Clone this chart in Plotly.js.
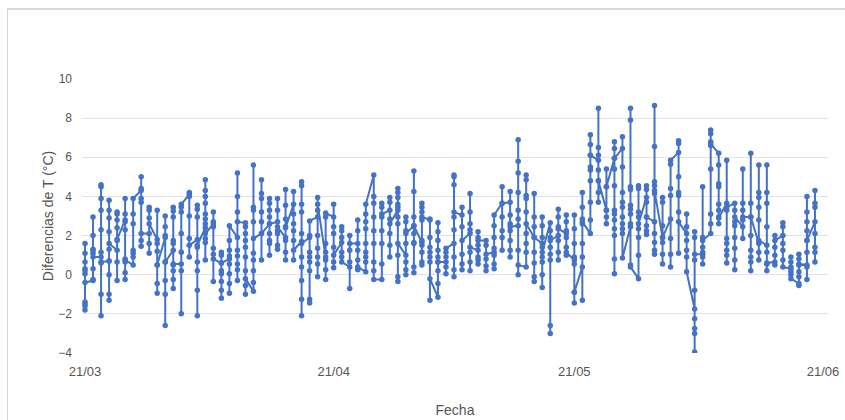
<!DOCTYPE html>
<html>
<head>
<meta charset="utf-8">
<script src="https://cdn.plot.ly/plotly-3.0.1.min.js"></script>
<style>
  html, body { margin: 0; padding: 0; background: #fff; }
  #wrap { position: relative; width: 845px; height: 420px; overflow: hidden; }
  #chart { position: absolute; left: 0; top: 0; width: 845px; height: 420px; }
  #frame { position: absolute; left: 7px; top: 8px; width: 900px; height: 500px;
           border-left: 1px solid #d6d6d6; border-top: 2px solid #d9d9d9; pointer-events: none; }
</style>
</head>
<body>
<div id="wrap">
  <div id="chart"></div>
  <div id="frame"></div>
</div>
<script>
// Lecturas diarias (°C), una lista por día, en orden de registro
// Marzo: 21/03 .. 31/03
const marzo = [
  [-1.5, -1.8, -1.6, -1.4, 0.05, 0.3, 0.65, 1.1, 1.6, 0.2, -0.4],
  [-0.3, -0.25, 0.3, 1.1, 1.25, 2.0, 2.95, 1.3, 0.9],
  [0.9, 1.15, 2.3, 3.3, 3.9, 4.5, 4.6, 0.6, -1.0, -2.1, 0.65],
  [0.7, 0.0, -1.0, -1.3, 0.7, 1.3, 2.2, 2.9, 3.3, 3.8, 1.6],
  [1.25, 0.65, -0.3, 1.75, 2.4, 2.8, 3.1, 3.2, 1.8],
  [2.8, 3.1, 3.9, 2.7, 2.3, 0.8, 0.1, -0.25, 0.65, 0.75],
  [0.5, 0.9, 1.1, 1.25, 2.6, 3.1, 3.9],
  [4.3, 4.4, 5.0, 3.9, 3.7, 1.75, 1.45, 2.1],
  [2.1, 1.6, 1.1, 2.9, 3.3, 3.45, 2.6],
  [1.8, 3.3, 1.6, 1.2, 0.5, -0.45, -0.95, 0.5],
  [1.9, 2.0, 2.45, 3.0, 0.65, -0.3, -1.0, -2.6, 0.65]
];
// Abril: 01/04 .. 30/04
const abril = [
  [1.25, 1.6, 1.75, 2.95, 3.25, 3.45, 0.5, 0.2, -0.25, -0.7, 0.55],
  [0.55, 0.2, -2.0, 1.15, 2.1, 3.2, 3.45, 3.6],
  [4.1, 4.2, 4.0, 3.0, 1.85, 0.9, 1.5],
  [1.8, 0.65, 0.2, -0.8, -2.1, 1.4, 2.95, 3.35, 3.55, 1.5],
  [2.4, 2.6, 3.1, 3.65, 4.0, 4.3, 4.85, 2.85, 1.85, 1.65, 0.75, 2.1],
  [2.6, 3.2, 2.7, 2.45, 1.35, 1.05, -0.35, 0.8],
  [0.6, 1.15, 1.0, 0.2, 0.05, -0.35, -0.8, -1.2, 0.6],
  [0.8, 0.05, -0.45, -0.95, 0.55, 0.95, 1.25, 1.75, 2.5],
  [1.9, 1.25, 0.95, 0.55, 0.25, -0.3, 3.2, 4.0, 5.2, 2.7],
  [2.65, 2.45, 2.1, 1.75, 1.4, 0.9, 0.2, -0.55, -1.0, -0.2],
  [-0.85, -0.4, 0.2, 0.75, 1.1, 2.7, 3.3, 3.45, 5.6, 1.85],
  [2.1, 2.7, 3.2, 3.9, 4.15, 4.85, 0.75, 2.1],
  [2.6, 2.1, 1.75, 1.6, 1.0, 2.95, 3.3, 3.65, 3.9, 2.6],
  [2.7, 3.3, 3.9, 2.25, 2.1, 1.5, 1.3, 2.45],
  [1.9, 1.75, 1.15, 0.75, 2.45, 2.85, 3.55, 4.35, 2.4],
  [3.6, 4.25, 3.1, 2.6, 2.25, 1.75, 0.75, 1.25],
  [1.7, 2.1, 3.6, 3.2, 4.55, 4.75, 0.9, 0.4, -0.3, -1.25, -2.1, 1.6],
  [1.9, 1.15, 0.9, 0.65, 0.2, -1.25, -1.45, 2.0, 2.75],
  [2.95, 3.3, 3.95, 2.0, 1.35, 0.9, 0.55, -0.1, 3.6],
  [0.9, 0.25, -0.25, 0.75, 1.15, 1.6, 2.95, 3.15],
  [2.95, 3.6, 2.45, 2.1, 1.4, 0.65, 0.35, 1.0],
  [1.65, 2.45, 2.25, 1.9, 1.15, 0.9, 0.65],
  [0.4, 0.65, -0.7, 1.25, 2.0, 1.6],
  [1.6, 2.25, 2.8, 1.25, 0.75, 0.25, 0.4],
  [0.15, 0.65, 0.9, 1.15, 1.6, 2.35, 2.7, 3.1, 3.6],
  [5.1, 4.0, 3.65, 2.95, 2.25, 1.6, 0.65, 0.2, -0.25],
  [-0.25, 0.55, 1.6, 2.25, 2.95, 3.45, 3.65, 3.1],
  [3.3, 3.95, 3.7, 2.85, 2.1, 1.5, 0.9, 2.6],
  [3.3, 4.4, 4.2, 3.95, 3.6, 3.45, 2.95, 2.6, 1.0, -0.1, -0.35, 1.6],
  [1.0, 0.65, 0.25, 0.0, 1.6, 2.25, 2.7, 2.95, 2.1]
];
// Mayo: 01/05 .. 31/05
const mayo = [
  [2.5, 2.1, 1.65, 0.4, 0.1, 1.6, 2.95, 4.25, 5.3, 2.5],
  [1.65, 1.5, 1.15, 0.65, 0.5, 1.75, 2.8, 3.2, 3.45, 3.65, 2.95],
  [2.8, 2.85, 1.9, 1.4, 1.15, 0.9, 0.65, -1.3, -0.2],
  [-1.15, -0.45, 0.2, 0.65, 0.9, 1.25, 1.75, 2.2, 2.65, 0.65],
  [0.65, 0.4, 0.05, 0.9, 1.15, 1.35],
  [1.6, 0.9, 0.25, -0.1, 2.3, 2.95, 4.6, 5.0, 5.1, 3.2],
  [3.05, 3.45, 2.45, 1.05, 0.55, 0.25, 1.75],
  [2.1, 2.6, 3.2, 4.15, 2.3, 1.15, 0.65, 0.2, 1.4],
  [1.25, 0.9, 0.75, 0.55, 1.5, 1.9, 2.2, 1.75],
  [1.75, 1.5, 0.8, 0.45, 0.2, 1.05],
  [1.15, 0.55, 0.3, 1.0, 1.35, 1.9, 2.5, 3.05],
  [3.65, 4.5, 2.95, 2.25, 1.9, 1.25, 3.65],
  [3.7, 4.25, 3.05, 2.6, 2.25, 1.75, 1.25, 0.9, 2.45],
  [2.5, 2.85, 3.3, 4.2, 5.2, 5.8, 6.9, 1.25, 0.0, 0.5],
  [0.4, 1.15, 1.6, 2.1, 3.2, 3.9, 4.05, 4.85, 5.1, 2.6],
  [1.9, 2.45, 2.95, 4.15, 1.15, 0.6, -0.1, -0.35, 1.9],
  [1.6, 1.9, 2.5, 2.95, 1.4, 0.9, 0.65, 0.0, -0.65, 1.15],
  [2.65, 2.25, 1.9, 1.4, 1.05, 0.75, -2.6, -3.0, 1.75],
  [2.0, 1.75, 1.15, 0.75, 2.45, 2.95, 3.35, 2.35],
  [2.1, 1.9, 1.4, 1.0, 2.25, 2.7, 3.05, 1.15],
  [0.75, 0.55, 0.9, 1.6, 2.35, 3.05, -0.9, -1.45, -0.9],
  [0.4, -1.3, 0.9, 1.6, 2.6, 2.85, 3.45, 4.2, 2.7],
  [2.1, 2.8, 3.7, 4.8, 5.35, 5.5, 6.1, 6.65, 7.15, 6.1],
  [5.85, 6.1, 6.5, 8.5, 5.35, 4.8, 4.2, 3.7, 4.8],
  [3.3, 2.95, 2.6, 3.3, 4.5, 5.4, 4.5],
  [5.95, 6.8, 6.45, 5.4, 4.55, 3.3, 3.1, 2.8, 2.35, 2.0, 0.8, 0.05, 5.95],
  [6.45, 7.05, 5.5, 4.2, 3.7, 3.45, 2.95, 2.6, 2.35, 2.1, 0.85],
  [2.45, 2.6, 3.1, 3.35, 3.55, 4.35, 4.5, 7.9, 8.5, 0.5, 0.4],
  [-0.2, 1.0, 1.9, 2.35, 2.95, 3.2, 4.4, 4.55, 2.6],
  [3.95, 4.35, 4.55, 3.7, 2.95, 2.5, 2.25, 2.05, 2.95],
  [2.7, 2.1, 1.65, 1.25, 1.05, 4.15, 4.55, 4.75, 6.55, 8.65, 4.3]
];
// Junio: 01/06 .. 20/06
const junio = [
  [1.9, 1.65, 1.05, 0.55, 2.5, 3.7, 3.95, 1.9],
  [2.85, 1.85, 1.05, 0.4, 4.05, 4.4, 5.65, 5.85],
  [6.25, 6.7, 6.85, 5.0, 4.2, 4.05, 3.2, 1.1, 2.7],
  [2.1, 2.45, 3.1, 1.75, 1.25, 0.9, 0.15],
  [-1.75, -2.25, -2.75, -3.0, -3.95, -0.8, 0.75, 1.9, 2.2, 1.05],
  [1.05, 0.55, 0.9, 1.15, 1.4, 1.9, 4.5, 1.75],
  [2.1, 2.6, 3.1, 5.4, 6.6, 6.8, 7.2, 7.4, 6.7],
  [6.2, 5.6, 4.65, 4.5, 3.6, 3.3, 2.95, 2.6, 2.9],
  [3.65, 5.85, 3.3, 1.85, 1.6, 1.25, 1.0, 0.6, 3.45],
  [3.65, 3.3, 2.7, 2.5, 1.9, 1.35, 0.75, 0.25, 2.95],
  [2.45, 1.85, 2.8, 3.3, 3.65, 5.4, 2.95],
  [2.95, 3.65, 6.2, 2.0, 1.25, 0.9, 0.65, 0.2, 2.95],
  [1.6, 1.15, 0.75, 2.8, 3.45, 3.95, 4.2, 5.6, 1.75],
  [1.5, 2.45, 3.65, 4.2, 5.6, 1.15, 0.55, 0.2, 0.6],
  [0.65, 0.5, 1.0, 1.4, 2.0, 1.75],
  [2.0, 2.65, 2.45, 1.6, 1.25, 0.75, 0.4],
  [0.3, 0.9, 0.65, 0.4, 0.15, 0.0, -0.2],
  [-0.45, -0.55, -0.1, 0.15, 0.5, 0.8, 1.05, 0.55],
  [0.5, 0.4, -0.25, 1.15, 1.75, 2.25, 2.7, 3.2, 4.0, 1.75],
  [2.7, 3.45, 3.65, 4.3, 2.1, 1.4, 1.15, 0.65]
];
const anio = 2020;
const mesesInicio = [[marzo, '03', 21], [abril, '04', 1], [mayo, '05', 1], [junio, '06', 1]];
const tickFechas = ['2020-03-21', '2020-04-21', '2020-05-21', '2020-06-21'];
const tickTextos = ['21/03', '21/04', '21/05', '21/06'];

const xs = [], ys = [];
mesesInicio.forEach(([dias, mes, inicio]) => {
  dias.forEach((lecturas, i) => {
    const d = String(inicio + i).padStart(2, '0');
    const fecha = `${anio}-${mes}-${d}`;
    lecturas.forEach(v => { xs.push(fecha); ys.push(v); });
  });
});

const azul = '#4472c4';
const trace = {
  x: xs, y: ys, type: 'scatter', mode: 'lines+markers',
  line: { color: azul, width: 2 },
  marker: { color: azul, size: 5.5 },
  hoverinfo: 'x+y'
};

const fontFam = 'Arial, "Liberation Sans", sans-serif';
const layout = {
  width: 845, height: 420,
  margin: { l: 82, r: 17, t: 79, b: 67 },
  paper_bgcolor: '#ffffff', plot_bgcolor: '#ffffff',
  showlegend: false,
  font: { family: fontFam, size: 12, color: '#555555' },
  xaxis: {
    type: 'date',
    range: ['2020-03-20 15:00', '2020-06-21 15:00'],
    tickvals: tickFechas, ticktext: tickTextos,
    showgrid: false, zeroline: false, showline: false, ticks: '',
    ticklabelstandoff: 9,
    tickfont: { size: 13, color: '#555555' },
    title: { text: 'Fecha', font: { size: 14, color: '#555555' }, standoff: 27 }
  },
  yaxis: {
    range: [-4, 10],
    tickvals: [-4, -2, 0, 2, 4, 6, 8, 10],
    showgrid: true, gridcolor: '#e3e3e3', gridwidth: 1,
    zeroline: false, showline: false, ticks: '',
    ticklabelstandoff: 9,
    tickfont: { size: 12, color: '#555555' },
    title: { text: 'Diferencias de T (°C)', font: { size: 14, color: '#555555' }, standoff: 1 }
  }
};

Plotly.newPlot('chart', [trace], layout, { displayModeBar: false, staticPlot: true });
</script>
</body>
</html>
